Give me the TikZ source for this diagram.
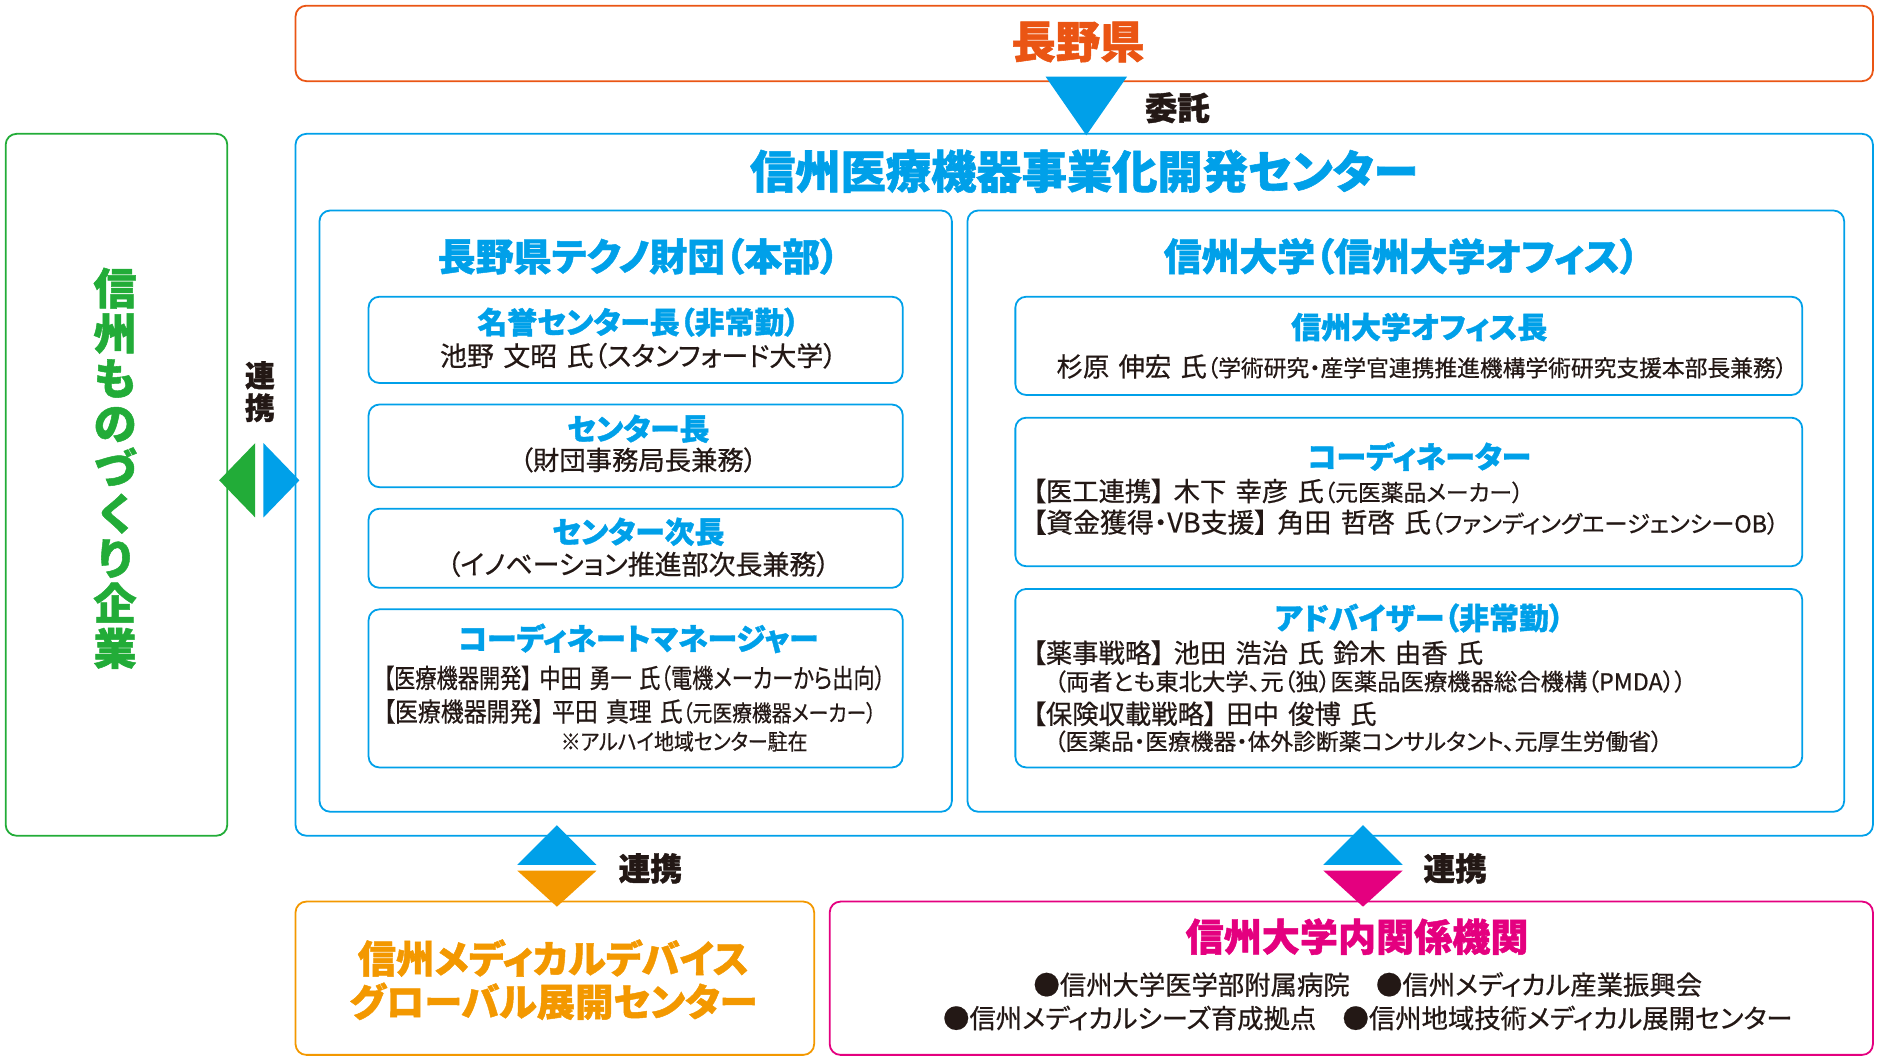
\documentclass[tikz,border=0pt]{standalone}
\usepackage{fontspec}
\setmainfont{Noto Sans CJK JP}[RawFeature={+palt}, FakeBold=0.6, BoldFeatures={FakeBold=1.2}]
\usetikzlibrary{calc}
\definecolor{cOr}{HTML}{EA5514}
\definecolor{cBl}{HTML}{00A0E9}
\definecolor{cGr}{HTML}{22AC38}
\definecolor{cOr2}{HTML}{F39800}
\definecolor{cMg}{HTML}{E4007F}
\definecolor{cBk}{HTML}{231815}
\newcommand{\fsz}[1]{\fontsize{#1}{#1}\selectfont}
\newcommand{\sps}{\hspace{0.35em}}
\begin{document}
\begin{tikzpicture}[x=1pt,y=-1pt,
  box/.style={draw, rounded corners=9pt, line width=1.5pt, anchor=north west, inner sep=0pt},
  ttl/.style={font=\bfseries\fsz{#1}, inner sep=0pt},
  bdy/.style={font=\fsz{#1}, text=cBk, inner sep=0pt},
  lbl/.style={font=\bfseries\fsz{#1}, text=cBk, inner sep=0pt}]
\useasboundingbox (0,0) rectangle (1568,886.7);
% boxes
\node[box, draw=cOr, minimum width=1317pt, minimum height=63pt] (nagano) at (246,4) {};
\node[box, draw=cBl, minimum width=1317pt, minimum height=586pt] (center) at (246,111) {};
\node[box, draw=cBl, minimum width=528pt, minimum height=502pt] (techno) at (266,175) {};
\node[box, draw=cBl, minimum width=732pt, minimum height=502pt] (shindai) at (807,175) {};
\node[box, draw=cBl, minimum width=446pt, minimum height=72pt] (L1) at (307,247) {};
\node[box, draw=cBl, minimum width=446pt, minimum height=69pt] (L2) at (307,337) {};
\node[box, draw=cBl, minimum width=446pt, minimum height=66pt] (L3) at (307,424) {};
\node[box, draw=cBl, minimum width=446pt, minimum height=132pt] (L4) at (307,508) {};
\node[box, draw=cBl, minimum width=657pt, minimum height=82pt] (R1) at (847,247) {};
\node[box, draw=cBl, minimum width=657pt, minimum height=124pt] (R2) at (847,348) {};
\node[box, draw=cBl, minimum width=657pt, minimum height=149pt] (R3) at (847,491) {};
\node[box, draw=cGr, minimum width=185pt, minimum height=586pt] (green) at (4,111) {};
\node[box, draw=cOr2, minimum width=433pt, minimum height=128pt] (gdev) at (246,752) {};
\node[box, draw=cMg, minimum width=871pt, minimum height=128pt] (kikan) at (692,752) {};
% triangles
\fill[cBl] (873,64) -- (941,64) -- (907,113) -- cycle;
\fill[cGr] (183,401) -- (213,370) -- (213,432) -- cycle;
\fill[cBl] (220,370) -- (250,401) -- (220,432) -- cycle;
\fill[cBl] (432,722) -- (498,722) -- (465,689) -- cycle;
\fill[cOr2] (432,727) -- (498,727) -- (465,757) -- cycle;
\fill[cBl] (1105,722) -- (1171,722) -- (1138,689) -- cycle;
\fill[cMg] (1105,727) -- (1171,727) -- (1138,757) -- cycle;
% labels
\node[lbl=27] (itaku) at (983,90) {委託};
\node[lbl=25, align=center, font=\bfseries\fontsize{25}{27}\selectfont] (renkeiV) at (217,327) {連\\携};
\node[lbl=26.5] (renkeiL) at (543,725) {連携};
\node[lbl=26.5] (renkeiR) at (1215,725) {連携};
% titles
\node[ttl=37, text=cOr] (tNagano) at (900,35) {長野県};
\node[ttl=37.8, text=cBl] (tCenter) at (905,143) {信州医療機器事業化開発センター};
\node[ttl=31.7, text=cBl] (tTechno) at (533,214) {長野県テクノ財団（本部）};
\node[ttl=31.6, text=cBl] (tShindai) at (1170,214) {信州大学（信州大学オフィス）};
\node[ttl=25, text=cBl] (tL1) at (533,269) {名誉センター長（非常勤）};
\node[ttl=25, text=cBl] (tL2) at (533,358) {センター長};
\node[ttl=25, text=cBl] (tL3) at (533,444) {センター次長};
\node[ttl=25, text=cBl] (tL4) at (533,533) {コーディネートマネージャー};
\node[ttl=25, text=cBl] (tR1) at (1185,273) {信州大学オフィス長};
\node[ttl=25, text=cBl] (tR2) at (1185,381) {コーディネーター};
\node[ttl=25, text=cBl] (tR3) at (1185,516) {アドバイザー（非常勤）};
\node[ttl=32, text=cOr2, align=center, font=\bfseries\fontsize{32}{36}\selectfont] (tGdev) at (462,818) {信州メディカルデバイス\\グローバル展開センター};
\node[ttl=31.8, text=cMg] (tKikan) at (1133,782) {信州大学内関係機関};
\node[ttl=37, text=cGr, align=center, font=\bfseries\fontsize{36}{37.6}\selectfont] (tGreen) at (96,391) {信\\州\\も\\の\\づ\\く\\り\\企\\業};
% body
\node[bdy=22.5] (b1) at (533,297) {池野\sps 文昭\sps 氏（スタンフォード大学）};
\node[bdy=22] (b2) at (533,384) {（財団事務局長兼務）};
\node[bdy=22.5] (b3) at (533,471) {（イノベーション推進部次長兼務）};
\node[bdy=22, anchor=west] (b4) at (320,566) {\scalebox{0.805}[1]{【医療機器開発】\sps 中田\sps 勇一\sps 氏（電機メーカーから出向）}};
\node[bdy=22, anchor=west] (b5) at (320,594) {\scalebox{0.87}[1]{【医療機器開発】\sps 平田\sps 真理\sps 氏{\fsz{19}（元医療機器メーカー）}}};
\node[bdy=18.5, anchor=west] (b6) at (468,619) {\scalebox{0.9}[1]{※アルハイ地域センター駐在}};
\node[bdy=22, anchor=west] (b7) at (882,306) {杉原\sps 伸宏\sps 氏{\fsz{19}（学術研究・産学官連携推進機構学術研究支援本部長兼務）}};
\node[bdy=22, anchor=west] (b8) at (862,410) {【医工連携】\sps 木下\sps 幸彦\sps 氏{\fsz{19}（元医薬品メーカー）}};
\node[bdy=22.5, anchor=west] (b9) at (862,436) {【資金獲得・VB支援】\sps 角田\sps 哲啓\sps 氏{\fsz{19.5}（ファンディングエージェンシーOB）}};
\node[bdy=22, anchor=west] (b10) at (862,545) {【薬事戦略】\sps 池田\sps 浩治\sps 氏\sps 鈴木\sps 由香\sps 氏};
\node[bdy=19.5, anchor=west] (b11) at (880,569) {（両者とも東北大学、元（独）医薬品医療機器総合機構（PMDA））};
\node[bdy=22, anchor=west] (b12) at (862,596) {【保険収載戦略】\sps 田中\sps 俊博\sps 氏};
\node[bdy=19, anchor=west] (b13) at (880,619) {（医薬品・医療機器・体外診断薬コンサルタント、元厚生労働省）};
\node[bdy=22] (b14) at (1142,822) {●信州大学医学部附属病院\hspace{1em}●信州メディカル産業振興会};
\node[bdy=22] (b15) at (1142,850) {●信州メディカルシーズ育成拠点\hspace{1em}●信州地域技術メディカル展開センター};
\end{tikzpicture}
\end{document}
